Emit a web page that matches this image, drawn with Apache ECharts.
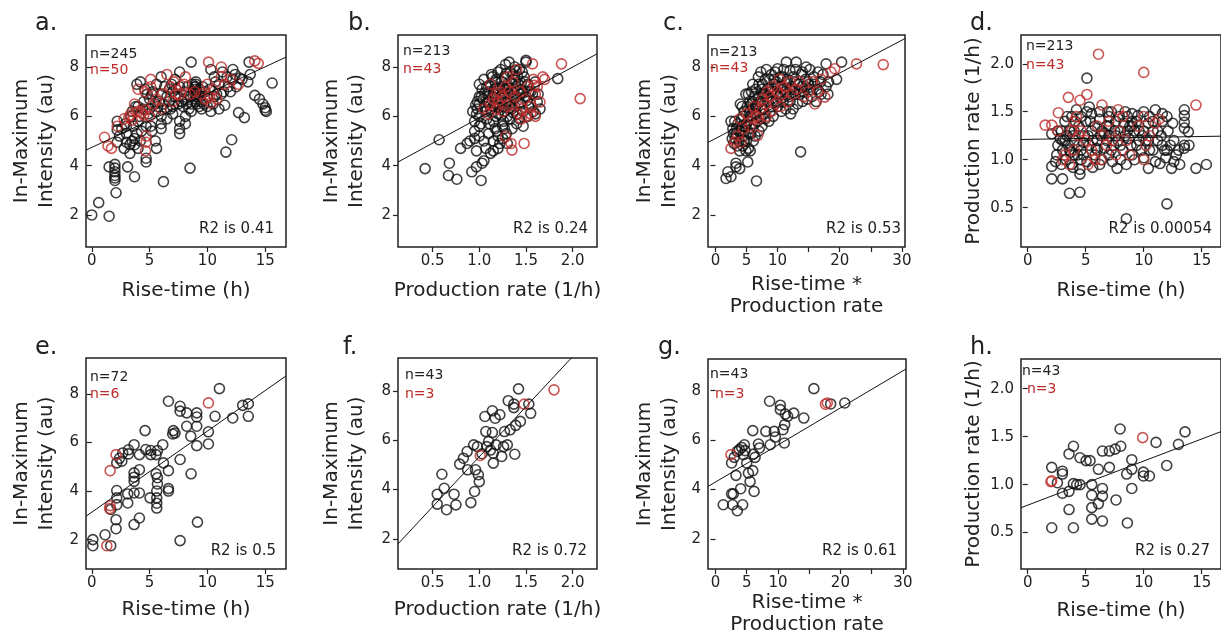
<!DOCTYPE html>
<html><head><meta charset="utf-8">
<script src="https://cdn.jsdelivr.net/npm/echarts@6/dist/echarts.min.js"></script>
<style>html,body{margin:0;padding:0;background:#fff}#c{width:1221px;height:638px}</style>
</head><body><div id="c"></div><script>
// ---------- DATA ----------
const riseTicks = [0, 5, 10, 15];
const rateTicks = [0.5, 1.0, 1.5, 2.0];
const prodTicks = [0, 5, 10, 15, 20, 25, 30];
const prodLabels = [0, 5, 10, 20, 30];
const intTicks = [2, 4, 6, 8];
const rateYTicks = [0.5, 1.0, 1.5, 2.0];

const aBlack = [[0,2.0],[0.6,2.5],[1.5,1.95],[2.1,2.9],[2.0,3.4],[2.0,3.5],[2.0,3.6],[2.0,3.75],[2.0,3.9],[2.0,4.05],[1.5,3.95],[3.1,3.95],[3.7,3.55],[6.2,3.35],[8.5,3.9],[11.6,4.55],[12.1,5.05],
[12.7,6.15],[13.2,5.95],[14.1,6.85],[14.5,6.7],[14.8,6.5],[15.0,6.35],[15.1,6.2],[15.0,6.25],[15.6,7.35],[13.7,7.7],[13.6,8.2],[13.5,7.4],[13.0,7.5],[12.2,7.9],[12.2,7.5],[12.8,7.55],[11.5,6.45],[11.2,6.9],[11.8,7.2],[12.0,7.0],[12.5,7.2],[11.0,7.3],[11.3,7.8],[10.6,7.6],[10.3,7.9],
[8.6,8.2],[7.6,7.8],[7.2,7.5],[6.9,7.3],[6.0,7.6],[5.6,7.3],[4.6,7.1],[4.2,7.4],[3.9,7.3],
[9.0,6.6],[9.0,6.7],[9.0,6.8],[9.0,6.9],[9.0,7.0],[9.0,7.1],[9.0,7.2],[9.0,7.3],[9.0,7.4],[8.8,7.0],[9.2,6.9],[8.6,6.5],[9.5,6.6],[9.5,6.3],[9.8,7.0],[10.0,6.4],[10.0,6.8],[10.5,6.5],[10.8,6.9],[8.0,7.0],[8.0,6.7],[7.6,7.2],[7.5,6.8],[7.5,6.5],[7.0,7.0],[7.0,6.4],[6.5,6.8],[6.5,6.3],[6.0,6.9],[6.0,6.0],[6.0,5.7],[5.5,6.5],[5.5,6.2],[5.0,6.7],[5.0,6.3],[4.5,6.6],[4.0,6.4],[3.8,6.4],[3.5,6.2],
[7.6,5.8],[7.6,5.5],[7.6,5.3],[8.1,5.7],[8.1,6.0],[7.0,6.1],[6.5,5.9],[5.1,5.6],[5.2,5.4],[5.5,5.0],[5.6,4.7],[4.7,4.3],[4.7,4.15],[4.7,5.6],[4.3,5.4],[4.0,5.8],[3.7,5.1],[3.7,4.85],[3.3,4.85],[3.3,4.5],[3.0,4.95],[2.4,5.2],[2.2,4.95],[2.2,5.45],[2.2,5.8],[2.6,5.5],[3.0,5.6],[3.0,5.3],[3.5,5.0],[4.2,5.0],[4.0,4.7],[3.9,5.3],[2.8,4.7],[6.0,5.5],[6.8,6.3],[8.4,6.3],[8.6,6.2],[9.3,6.4],[10.3,6.2],[11.0,6.3],[11.4,7.0],
[4.8,6.9],[5.3,7.0],[5.8,6.6],[6.3,7.2],[6.7,6.6],[7.3,7.1],[7.8,6.6],[8.3,7.2],[8.5,6.8],[8.7,7.3],[9.3,7.1],[9.6,7.2],[10.2,7.1],[10.6,6.8],[7.9,6.4],[6.2,6.5],[5.2,6.9],[4.4,6.3],[3.4,6.0],[2.9,5.7],[10.7,7.4],[11.7,7.6],[12.4,7.7],[9.7,6.5],[8.2,6.5],[7.2,6.8],[6.7,7.1],[5.7,6.4],[4.9,6.1],[4.1,6.0],[3.6,5.6],[9.1,6.5],[8.9,7.2],[9.4,6.8]];
const aRed = [[1.1,5.15],[1.4,4.8],[1.7,4.7],[2.8,5.9],[3.2,5.95],[3.5,5.85],[3.3,6.05],[4.0,6.2],[4.3,6.15],[4.5,6.05],[4.6,6.25],[4.7,5.2],[4.7,4.95],[4.65,4.6],[4.6,7.0],[5.1,7.5],[5.1,7.2],[5.3,6.5],[5.6,6.7],[6.1,6.9],[6.5,7.7],[6.8,7.2],[7.1,7.4],[7.3,6.9],[7.0,6.6],[8.1,7.6],[8.0,7.3],[8.5,6.9],[9.5,6.9],[10.1,8.2],[10.2,6.8],[10.3,6.55],[10.5,7.1],[10.8,6.7],[11.2,8.0],[11.2,7.6],[11.5,7.3],[12.0,7.5],[12.7,7.3],[14.1,8.25],[14.4,8.15],[6.0,6.3],[5.0,6.0],[4.0,7.1],[7.6,6.9],[8.9,7.0],[9.8,6.7],[10.0,7.3],[3.7,6.5],[2.2,5.6]];
const aFit = [4.74, 0.218];

const bBlack = [[0.42,3.88],[0.57,5.05],[0.68,4.1],[0.67,3.6],[0.76,3.45],[0.8,4.7],[0.87,4.9],[0.92,3.75],[0.97,4.6],[0.97,3.95],[1.02,3.4],[1.03,4.1],[1.05,4.2],[1.07,4.7],[1.12,4.5],[1.15,4.6],[1.2,4.7],[0.9,5.0],[0.95,5.1],[1.0,5.2],[0.95,5.4],[1.0,5.6],[1.05,5.0],[1.1,5.3],[1.15,5.0],[1.17,5.5],[1.2,5.2],[1.25,5.6],[1.3,4.9],[1.22,4.9],
[0.95,5.8],[0.97,6.1],[0.98,6.3],[1.0,6.5],[1.0,6.0],[1.02,6.8],[1.03,7.1],[1.0,7.3],[1.05,7.5],[1.07,6.2],[1.08,5.9],[1.1,6.6],[1.1,7.0],[1.12,7.3],[1.13,7.7],[1.15,6.4],[1.15,5.8],[1.17,6.9],[1.18,7.5],[1.2,6.1],[1.2,6.7],[1.22,7.2],[1.23,7.9],[1.25,6.4],[1.25,6.9],[1.27,7.6],[1.28,8.1],[1.3,6.0],[1.3,6.6],[1.3,7.3],[1.32,8.2],[1.33,7.8],[1.35,6.3],[1.35,7.0],[1.37,7.5],[1.38,8.0],[1.4,6.1],[1.4,6.8],[1.42,7.3],[1.43,7.9],[1.45,6.5],[1.45,7.1],[1.47,6.2],[1.48,7.6],[1.5,8.2],[1.5,6.8],[1.52,6.0],[1.52,7.3],[1.55,6.5],[1.55,7.0],[1.58,6.2],[1.6,6.1],[1.6,7.4],[1.62,6.6],[1.65,6.3],[1.5,8.27],[1.84,7.53],[1.17,7.4],[1.08,7.2],[1.12,6.3],[1.18,6.0],[1.26,5.8],[1.33,5.9],[1.38,6.4],[1.43,5.9],[1.47,5.6],[1.02,5.7],[0.93,6.2],[0.98,6.6],[1.06,6.4],[1.14,6.8],[1.24,7.4],[1.28,7.1],[1.36,7.7],[1.41,7.6],[1.46,7.8],[1.34,6.6],[1.22,6.5],[1.16,7.1],[1.09,6.9],[1.04,6.7],[1.27,6.2],[1.31,6.9],[1.39,7.2],[1.44,6.9],[1.49,7.4],[1.53,6.4],[1.57,6.9],[1.2,7.8],[1.14,7.6],[1.27,5.5],[1.35,5.5],[1.4,5.7],[1.25,5.1],[1.29,5.3],[1.11,5.7],[1.19,5.4],[1.63,6.9],
[1.15,6.95],[1.19,7.15],[1.23,6.75],[1.27,6.95],[1.31,7.15],[1.35,7.35],[1.29,6.55],[1.33,6.35],[1.37,6.75],[1.41,7.05],[1.45,7.35],[1.21,6.35],[1.17,6.55],[1.25,7.15],[1.29,7.75],[1.39,7.85],[1.43,6.55],[1.47,6.95],[1.51,6.65],[1.13,6.15],[1.09,6.55],[1.06,6.95],[1.0,6.8],[0.96,6.45],[1.53,7.0],[1.36,6.15],[1.24,6.05]];
const bRed = [[1.05,6.3],[1.1,6.1],[1.12,6.5],[1.15,6.7],[1.18,6.9],[1.2,6.6],[1.22,7.0],[1.25,6.8],[1.28,7.2],[1.3,6.4],[1.3,7.6],[1.32,7.0],[1.35,6.5],[1.36,7.4],[1.38,6.8],[1.4,7.9],[1.42,6.1],[1.44,7.0],[1.46,6.3],[1.48,6.7],[1.5,6.0],[1.52,7.2],[1.55,6.4],[1.58,7.5],[1.6,6.9],[1.57,8.13],[1.88,8.13],[2.08,6.72],[1.68,7.6],[1.65,6.58],[1.48,4.9],[1.35,4.63],[1.34,4.9],[1.28,5.17],[1.59,7.26],[1.55,6.1],[1.25,6.2],[1.18,6.3],[1.6,6.0],[1.62,7.2],[1.12,7.3],[1.45,5.9],[1.7,7.5]];
const bFit = [3.88, 2.06];

const cBlack = [[1.7,3.48],[2.5,3.55],[2.0,3.75],[3.3,4.1],[3.3,3.95],[3.9,3.88],[5.2,4.15],[6.6,3.38],[13.7,4.56],
[11.4,8.2],[13.0,8.2],[14.6,8.0],[17.8,8.13],[20.3,8.2],[10.0,7.93],[12.0,7.85],[15.2,7.9],[16.5,7.8],
[17.8,7.2],[18.1,6.9],[16.9,7.4],[16.3,7.1],[15.8,7.6],[15.0,7.3],[14.5,7.5],[14.2,7.0],[13.8,7.7],[13.3,7.3],[12.8,6.9],[12.5,7.6],[12.2,7.2],[11.8,6.8],[11.5,7.4],[11.2,7.0],[10.8,7.6],[10.5,7.2],[10.2,6.8],[10.0,6.4],[9.8,7.4],[9.5,7.0],[9.2,6.6],[9.0,7.7],[8.8,6.2],[8.5,7.1],[8.3,6.8],[8.0,7.5],[7.8,6.3],[7.5,6.9],[7.3,5.9],[7.0,7.3],[6.8,6.5],[6.6,6.1],[6.5,7.1],[6.3,5.7],[6.2,6.8],[6.0,6.3],[5.9,5.5],[5.8,7.0],[5.6,6.0],[5.5,6.6],[5.4,5.3],[5.2,5.8],[5.1,6.4],[5.0,5.0],[4.9,6.9],[4.8,5.6],[4.6,6.2],[4.5,5.2],[4.4,4.8],[4.2,5.9],[4.1,5.4],[4.0,6.5],[3.8,5.0],[3.6,5.7],[3.5,4.8],[3.3,5.3],[3.1,5.8],[3.0,4.9],[2.8,5.5],[2.7,5.1],[2.5,5.8],[5.3,4.7],[5.6,4.6],[4.9,4.6],[6.1,5.0],[6.4,5.2],[7.0,5.4],[7.5,5.6],[8.0,5.9],[8.6,5.8],[9.3,6.0],[10.6,6.2],[11.3,6.3],[12.1,6.1],[12.5,6.3],[13.2,6.5],[14.0,6.6],[14.8,6.7],[15.5,6.8],[16.2,6.6],[11.0,7.9],[9.6,7.8],[8.7,7.5],[7.6,7.3],[6.9,7.6],[12.9,7.9],[14.0,7.8],[17.3,7.7],[16.7,7.0],[15.3,7.1],[13.6,6.9],[12.0,6.6],[10.9,6.6],[9.9,6.9],[8.9,6.4],[7.9,6.1],[7.2,6.6],[6.7,5.8],[5.7,5.3],[4.7,5.0],[3.9,4.6],[3.4,5.5],[4.3,6.4],[5.3,6.9],[6.0,7.3],[7.3,7.8],[8.2,7.9],[9.4,7.5],[10.4,7.6],[11.6,7.5],[12.7,7.4],[13.9,7.2],[14.9,7.4],[16.0,7.3],[17.0,6.9],[18.2,7.4],[19.5,7.5],
[4.5,6.0],[5.0,5.7],[5.5,6.2],[6.0,6.6],[6.5,6.4],[7.0,6.8],[7.5,7.1],[8.0,6.9],[8.5,6.6],[9.0,7.0],[9.5,7.3],[10.0,7.2],[10.5,6.9],[11.0,7.1],[11.5,6.9],[12.0,7.1],[3.8,5.4],[4.3,5.6],[5.8,6.5],[6.3,6.1],[7.8,6.9],[9.8,6.6],[12.8,7.1],[13.5,7.0],[14.5,7.2],[3.2,5.1],[2.9,5.3],[4.7,5.4]];
const cRed = [[2.5,4.7],[3.1,4.96],[4.1,4.96],[3.9,5.9],[6.8,5.23],[7.0,5.9],[22.7,8.13],[27.0,8.1],[19.2,7.93],[18.6,7.8],[17.6,6.78],[16.0,6.5],[16.5,7.0],[5.5,5.6],[6.0,5.9],[6.2,6.4],[6.6,6.0],[7.2,6.3],[7.6,6.7],[8.0,6.5],[8.4,7.0],[8.8,6.8],[9.2,7.2],[9.6,6.5],[10.0,7.0],[10.3,7.5],[10.7,6.9],[11.1,7.2],[11.6,6.6],[12.0,7.4],[12.4,6.9],[13.0,7.1],[13.5,7.4],[14.2,6.8],[15.0,7.0],[15.6,7.4],[5.0,6.1],[4.5,5.5],[3.6,5.2],[8.2,6.0],[9.0,6.2],[10.5,6.4],[17.0,7.5]];
const cFit = [5.1, 0.133];

const dBlack = [[5.1,1.85],[2.07,0.8],[3.0,0.8],[3.6,0.65],[4.5,0.66],[12.0,0.54],[8.5,0.385],[15.4,0.95],[14.5,0.91],[12.4,0.91],[10.4,0.91],[7.7,0.91],[2.07,0.93],[2.07,1.27],[13.5,1.52],[13.5,1.46],[13.5,1.39],[13.5,1.33],[13.85,1.29],[13.5,1.12],[13.5,1.15],[12.8,1.05],[12.6,0.98],[12.3,1.15],[11.6,1.4],[11.6,1.48],[11.0,1.52],[11.2,1.2],[11.8,1.1],[11.0,0.98],[10.5,1.1],[10.5,1.45],[10.2,1.2],[10.0,1.02],[10.0,1.5],[9.6,1.3],[9.4,1.15],[9.0,1.4],[9.0,1.48],[9.0,1.35],[9.0,1.05],[8.7,1.22],[8.5,0.95],[8.4,1.5],[8.2,1.1],[8.0,1.3],[8.0,1.0],[7.6,1.4],[7.4,1.15],[7.2,1.5],[7.0,1.45],[7.0,1.25],[7.0,1.05],[6.8,1.35],[6.6,1.12],[6.4,1.0],[6.2,1.42],[6.0,1.2],[5.8,1.05],[5.5,1.48],[5.5,1.3],[5.3,1.15],[5.1,1.5],[5.1,0.98],[5.0,1.4],[4.9,1.25],[4.6,1.1],[4.5,0.9],[4.5,0.85],[4.4,1.35],[4.2,1.52],[4.0,1.2],[4.0,1.05],[3.8,0.95],[3.8,1.45],[3.6,1.3],[3.5,1.15],[3.3,1.0],[3.2,1.4],[3.0,1.2],[3.0,1.1],[2.9,0.95],[2.6,1.3],[2.6,1.15],[2.5,1.05],[4.6,1.0],[5.8,1.35],[6.3,1.25],[7.8,1.2],[8.9,1.15],[9.8,1.1],[10.8,1.3],[11.5,1.25],[12.1,1.3],[12.6,1.2],[13.0,1.1],[11.9,1.02],[10.4,1.38],[9.2,1.0],[7.3,0.98],[6.2,0.95],[5.6,0.92],[3.9,0.92],[4.3,1.05],[8.3,1.38],[6.9,1.5],[5.3,1.55],[7.5,1.3],[9.5,1.46],[12.0,1.45],[10.8,1.1],[3.4,1.25],[4.8,1.18],[13.9,1.15],[12.5,1.38],[5.9,1.12],[6.6,1.28],[8.6,1.3],[7.9,1.45],[2.8,1.22],[3.7,1.08],[4.1,1.4],[2.4,0.98],[11.4,0.96],[9.9,1.25],[13.1,0.95],
[3.2,1.2],[3.6,1.1],[4.0,1.3],[4.4,1.15],[4.8,1.05],[5.2,1.25],[5.6,1.2],[6.0,1.1],[6.4,1.3],[6.8,1.2],[7.2,1.1],[7.6,1.25],[8.0,1.15],[8.4,1.25],[8.8,1.35],[9.2,1.3],[9.6,1.2],[10.0,1.3],[10.4,1.2],[10.8,1.4],[11.2,1.3],[11.6,1.15],[12.0,1.1],[4.6,1.45],[5.4,1.4],[6.2,1.5],[7.0,1.35],[8.6,1.45],[9.4,1.4],[3.4,1.45],[2.9,1.3],[3.9,1.25]];
const dRed = [[6.1,2.1],[10.0,1.91],[14.5,1.57],[1.5,1.36],[2.07,1.36],[2.64,1.49],[3.5,1.65],[4.5,1.62],[5.1,1.68],[6.4,1.57],[3.0,1.0],[3.2,1.05],[3.8,1.3],[4.0,1.4],[4.4,1.25],[4.6,1.3],[5.0,1.2],[5.2,0.95],[5.5,1.1],[6.0,1.35],[6.3,1.0],[6.5,1.25],[6.8,1.15],[7.0,1.4],[7.3,1.2],[7.6,1.05],[7.9,1.3],[8.2,1.45],[8.5,1.2],[9.5,1.35],[10.0,1.0],[10.0,1.45],[10.5,1.25],[11.0,1.38],[11.3,1.42],[4.2,1.45],[3.6,0.95],[5.8,1.0],[4.0,1.1],[7.8,1.52],[10.2,1.15],[8.8,1.05],[2.6,1.3]];
const dFit = [1.212, 0.002];

const eBlack = [[0.09,2.0],[0.09,1.75],[1.15,2.2],[1.64,1.75],[1.64,3.24],[2.16,4.02],[2.16,3.72],[2.16,3.44],[2.1,2.82],[2.1,2.45],[2.16,5.16],[2.6,5.23],[2.68,5.57],[3.17,5.53],[3.17,5.7],[3.11,3.88],[3.11,3.51],[3.66,5.91],[3.66,4.75],[3.66,4.57],[3.66,4.4],[3.66,3.92],[3.66,2.62],[4.12,2.89],[4.12,4.88],[4.12,5.5],[4.12,3.92],[4.61,6.49],[4.67,5.71],[5.04,3.72],[5.1,5.5],[5.1,5.67],[5.56,5.5],[5.68,5.67],[5.56,4.71],[5.68,4.55],[5.68,4.29],[5.62,4.0],[5.62,3.72],[5.62,3.5],[5.62,3.3],[6.14,5.91],[6.2,5.16],[6.63,4.1],[6.63,4.0],[6.63,4.84],[6.63,7.7],[7.06,6.49],[7.2,6.39],[7.64,7.49],[7.64,7.29],[7.64,5.3],[7.64,1.96],[8.21,6.67],[8.21,7.22],[8.56,6.26],[8.59,4.71],[9.08,7.22],[9.08,7.05],[9.08,6.67],[9.08,5.87],[9.14,2.72],[10.09,6.44],[10.09,5.94],[10.66,7.08],[11.04,8.22],[12.19,7.01],[13.05,7.53],[13.54,7.59],[13.54,7.08],[2.4,5.35],[7.0,6.35]];
const eRed = [[1.3,1.75],[1.59,3.4],[1.55,3.28],[1.59,4.84],[2.1,5.5],[10.09,7.63]];
const eFit = [3.13, 0.334];

const fBlack = [[0.55,3.41],[0.55,3.81],[0.6,4.62],[0.625,4.05],[0.65,3.18],[0.73,3.81],[0.75,3.38],[0.79,5.03],[0.83,5.27],[0.87,5.54],[0.875,4.8],[0.91,3.47],[0.94,5.81],[0.95,3.92],[0.96,4.8],[0.99,4.6],[1.0,4.32],[0.98,5.74],[1.03,5.45],[1.06,6.96],[1.07,6.35],[1.08,5.74],[1.1,5.95],[1.14,7.19],[1.14,6.31],[1.15,5.47],[1.15,5.07],[1.17,6.89],[1.18,5.81],[1.22,7.03],[1.24,5.34],[1.26,5.74],[1.27,6.35],[1.3,5.81],[1.33,6.42],[1.31,7.6],[1.37,7.46],[1.37,7.32],[1.39,6.6],[1.38,5.43],[1.42,8.08],[1.44,6.76],[1.53,7.46],[1.55,7.09],[1.12,5.6]];
const fRed = [[1.01,5.38],[1.48,7.46],[1.8,8.04]];
const fFit = [1.27, 4.06];

const gBlack = [[1.24,3.38],[2.58,3.82],[2.85,3.82],[2.74,3.38],[3.49,3.14],[4.35,3.38],[4.03,4.03],[2.58,5.07],[3.28,4.57],[3.49,5.54],[4.19,5.7],[4.62,5.81],[4.73,5.57],[5.0,5.07],[5.27,4.66],[5.54,4.32],[5.97,4.76],[6.18,3.92],[5.97,6.38],[6.08,5.43],[6.34,5.3],[6.88,5.84],[7.04,5.68],[8.06,6.35],[8.76,5.81],[8.66,7.57],[9.41,6.35],[9.57,6.12],[10.38,7.41],[10.38,7.23],[10.8,6.42],[11.08,6.62],[11.18,7.05],[11.02,5.88],[11.56,6.96],[12.53,7.09],[14.14,6.89],[15.75,8.08],[18.44,7.46],[20.7,7.5],[3.82,5.61],[4.46,5.41],[3.0,5.3]];
const gRed = [[2.47,5.41],[17.9,7.5],[17.6,7.45]];
const gFit = [4.30, 0.150];

const hBlack = [[2.07,1.18],[2.07,0.55],[2.56,1.02],[2.99,1.14],[2.99,1.11],[2.99,0.91],[3.56,0.74],[3.56,1.32],[3.56,0.93],[3.94,1.40],[3.94,1.01],[3.94,0.55],[4.22,1.0],[4.51,1.0],[4.51,1.28],[5.03,1.25],[5.37,1.25],[5.52,1.0],[5.52,0.89],[5.52,0.76],[5.52,0.64],[6.09,1.16],[6.09,0.80],[6.44,1.35],[6.44,0.96],[6.44,0.88],[6.44,0.62],[7.04,1.35],[7.04,1.18],[7.53,1.37],[7.61,0.84],[7.96,1.58],[8.02,1.40],[8.53,1.11],[8.59,0.60],[8.97,1.26],[8.97,1.16],[8.97,0.96],[9.97,1.13],[9.97,1.09],[10.49,1.09],[11.06,1.44],[11.98,1.2],[12.99,1.42],[13.56,1.55]];
const hRed = [[2.07,1.04],[9.91,1.49],[2.0,1.03]];
const hFit = [0.786, 0.046];

const nLabels = [['n=245','n=50'],['n=213','n=43'],['n=213','n=43'],['n=213','n=43'],['n=72','n=6'],['n=43','n=3'],['n=43','n=3'],['n=43','n=3']];
const r2Labels = ['R2 is 0.41','R2 is 0.24','R2 is 0.53','R2 is 0.00054','R2 is 0.5','R2 is 0.72','R2 is 0.61','R2 is 0.27'];
const panelLetters = ['a.','b.','c.','d.','e.','f.','g.','h.'];

// ---------- LAYOUT ----------
const FONT = 'DejaVu Sans';
const INK = '#222';
const RED = '#bd2c2a';
const INT_NAME = 'In-Maximum\nIntensity (au)';
const RATE_NAME = 'Production rate (1/h)';
const RISE_NAME = 'Rise-time (h)';
const PROD_NAME = 'Rise-time *\nProduction rate';

const panels = [
 {box:[86,35,200,212], x:[-0.5,16.8], y:[0.7,9.3], xt:riseTicks, xl:riseTicks, yt:intTicks, xn:RISE_NAME, yn:INT_NAME, xg:33, yg:27, black:aBlack, red:aRed, fit:aFit, letter:[35,10.6], n:[[90,46],[90,62]], r2:[947,220.5]},
 {box:[398,35,199,212], x:[0.13,2.26], y:[0.7,9.3], xt:rateTicks, xl:rateTicks, xf:1, yt:intTicks, xn:RATE_NAME, yn:INT_NAME, xg:33, yg:29, black:bBlack, red:bRed, fit:bFit, letter:[348,10.6], n:[[403,43],[403,61]], r2:[633,220.5]},
 {box:[708,35,197,212], x:[-1.2,30.5], y:[0.7,9.3], xt:prodTicks, xl:prodLabels, yt:intTicks, xn:PROD_NAME, yn:INT_NAME, xg:27, yg:25.5, black:cBlack, red:cRed, fit:cFit, letter:[663,10.6], n:[[710,44],[710,60]], r2:[320,220.5]},
 {box:[1021,35,200,212], x:[-0.58,16.66], y:[0.09,2.3], xt:riseTicks, xl:riseTicks, yt:rateYTicks, yf:1, xn:RISE_NAME, yn:RATE_NAME, xg:33, yg:33, black:dBlack, red:dRed, fit:dFit, letter:[970,10.6], n:[[1026,38],[1026,57.5]], r2:[9,220.5]},
 {box:[86,358,200,211], x:[-0.5,16.8], y:[0.79,9.48], xt:riseTicks, xl:riseTicks, yt:intTicks, xn:RISE_NAME, yn:INT_NAME, xg:30, yg:27, black:eBlack, red:eRed, fit:eFit, letter:[35,335], n:[[90,369],[90,386]], r2:[945,542.5]},
 {box:[398,358,199,211], x:[0.13,2.26], y:[0.78,9.33], xt:rateTicks, xl:rateTicks, xf:1, yt:intTicks, xn:RATE_NAME, yn:INT_NAME, xg:30, yg:29, black:fBlack, red:fRed, fit:fFit, letter:[343,335], n:[[405,367.5],[405,386]], r2:[634,542.5]},
 {box:[708,359,198,210], x:[-1.2,30.5], y:[0.78,9.28], xt:prodTicks, xl:prodLabels, yt:intTicks, xn:PROD_NAME, yn:INT_NAME, xg:23, yg:25.5, black:gBlack, red:gRed, fit:gFit, letter:[658,335], n:[[710,366],[715,386]], r2:[324,542.5]},
 {box:[1021,359,200,210], x:[-0.58,16.66], y:[0.12,2.31], xt:riseTicks, xl:riseTicks, yt:rateYTicks, yf:1, xn:RISE_NAME, yn:RATE_NAME, xg:31, yg:33, black:hBlack, red:hRed, fit:hFit, letter:[970,335], n:[[1022,363],[1027,381]], r2:[11,542.5]}
];

const grid = [], xAxis = [], yAxis = [], series = [], title = [];
const tick = {show:true, length:5, inside:false, lineStyle:{color:INK, width:1.2}};
const lab = (vals, fixed) => ({customValues: vals, margin:7, fontSize:15, fontFamily:FONT, color:INK,
  formatter: v => fixed ? Number(v).toFixed(1) : String(v)});
const txt = (text, pos, size, color, right) => {
  const t = {text, top: pos[1], padding:0, itemGap:0,
    textStyle:{fontSize:size, fontFamily:FONT, fontWeight:'normal', color, lineHeight:size+2}};
  if (right) t.right = pos[0]; else t.left = pos[0];
  return t;
};

panels.forEach((p, i) => {
  grid.push({left:p.box[0], top:p.box[1], width:p.box[2], height:p.box[3], show:true,
    borderColor:INK, borderWidth:1.5, backgroundColor:'transparent', containLabel:false, outerBoundsMode:'none'});
  xAxis.push({type:'value', gridIndex:i, min:p.x[0], max:p.x[1],
    axisLine:{show:false}, splitLine:{show:false},
    axisTick:Object.assign({customValues:p.xt}, tick), axisLabel:lab(p.xl, p.xf),
    name:p.xn, nameLocation:'middle', nameGap:p.xg,
    nameTextStyle:{fontSize:20, fontFamily:FONT, color:INK, lineHeight:22}});
  yAxis.push({type:'value', gridIndex:i, min:p.y[0], max:p.y[1],
    axisLine:{show:false}, splitLine:{show:false},
    axisTick:Object.assign({customValues:p.yt}, tick), axisLabel:lab(p.yt, p.yf),
    name:p.yn, nameLocation:'middle', nameGap:p.yg, nameRotate:90,
    nameTextStyle:{fontSize:20, fontFamily:FONT, color:INK, lineHeight:25}});
  const sym = (data, color) => ({type:'scatter', xAxisIndex:i, yAxisIndex:i, data, symbol:'circle', symbolSize:10,
    itemStyle:{color:'rgba(255,255,255,0)', borderColor:color, borderWidth:1.6}, silent:true, clip:true});
  series.push(sym(p.black, '#111'));
  series.push(sym(p.red, RED));
  const fitLine = [[p.x[0], p.fit[0] + p.fit[1]*p.x[0]], [p.x[1], p.fit[0] + p.fit[1]*p.x[1]]];
  series.push({type:'line', xAxisIndex:i, yAxisIndex:i, data:fitLine, showSymbol:false, silent:true, clip:true,
    lineStyle:{color:'#111', width:1}});
  title.push(txt(panelLetters[i], p.letter, 24, INK));
  title.push(txt(nLabels[i][0], p.n[0], 14, INK));
  title.push(txt(nLabels[i][1], p.n[1], 14, RED));
  title.push(txt(r2Labels[i], p.r2, 15, INK, true));
});

const chart = echarts.init(document.getElementById('c'), null, {renderer:'canvas'});
chart.setOption({animation:false, backgroundColor:'#fff', grid, xAxis, yAxis, series, title});
</script></body></html>
